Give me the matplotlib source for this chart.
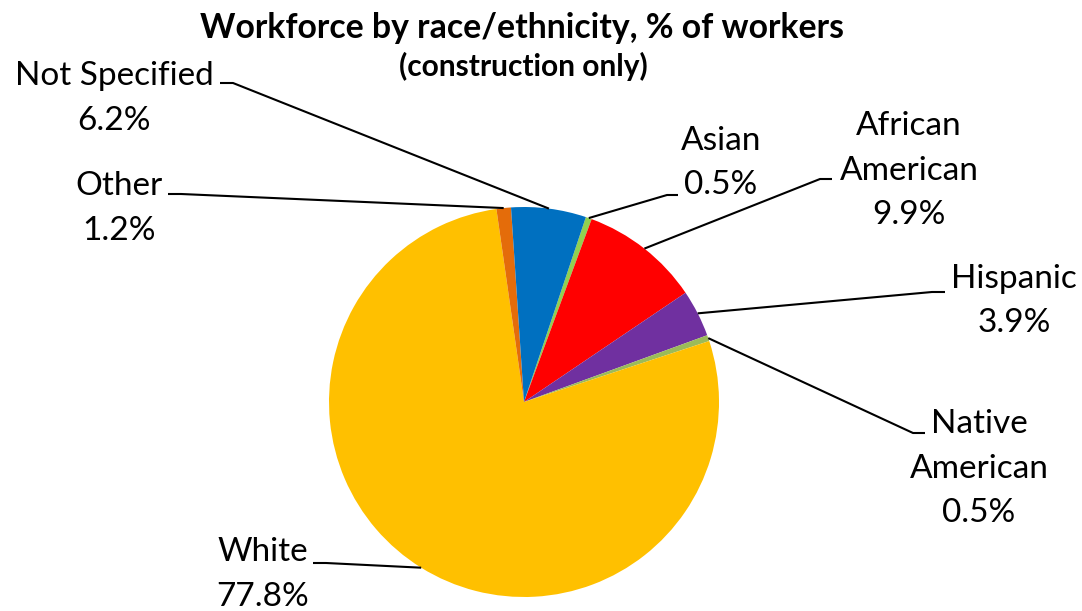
import matplotlib
matplotlib.use("Agg")
import matplotlib.pyplot as plt
import numpy as np

# ---- data ----
categories = ["Asian", "African American", "Hispanic", "Native American",
              "White", "Other", "Not Specified"]
values = [0.5, 9.9, 3.9, 0.5, 77.8, 1.2, 6.2]
colors = ["#92D050", "#FF0000", "#7030A0", "#9BBB59", "#FFC000", "#E46C0A", "#0070C0"]
label_lines = [["Asian"], ["African", "American"], ["Hispanic"], ["Native", "American"],
               ["White"], ["Other"], ["Not Specified"]]

title = "Workforce by race/ethnicity, % of workers"
subtitle = "(construction only)"

# ---- layout (image pixel coords, y down) ----
W, H = 1082, 611
# label centre x, first baseline y, leader knee (outer point), leader knee (inner point)
layout = {
    "Asian":            (721, 150, (678, 195), (667, 195)),
    "African American": (909, 135, (832, 179), (820, 179)),
    "Hispanic":         (1014, 288, (945, 292), (932, 292)),
    "Native American":  (979, 433, (925, 433), (913, 433)),
    "White":            (263, 561, (313, 563), (326, 563)),
    "Other":            (119, 195, (168, 194), (181, 194)),
    "Not Specified":    (114, 85, (220, 83), (233, 83)),
}
LS = 44.5
FONT = "Lato"

fig = plt.figure(figsize=(W / 100, H / 100), dpi=100)
ax = fig.add_axes([0, 0, 1, 1])
cx, cy, R = 524, H - 402, 195
wedges, _ = ax.pie(values, colors=colors, startangle=71.5, counterclock=False,
                   center=(cx, cy), radius=R, wedgeprops=dict(linewidth=0))
ax.set_xlim(0, W)
ax.set_ylim(0, H)
ax.set_aspect('equal')
ax.axis('off')

for w, cat, val, lines in zip(wedges, categories, values, label_lines):
    x, b, k_out, k_in = layout[cat]
    mid = np.deg2rad((w.theta1 + w.theta2) / 2)
    ex, ey = cx + R * np.cos(mid), cy + R * np.sin(mid)
    ax.plot([k_out[0], k_in[0], ex], [H - k_out[1], H - k_in[1], ey],
            color="black", lw=1.5, solid_capstyle="butt")
    all_lines = lines + [f"{val:.1f}%"]
    for i, t in enumerate(all_lines):
        ax.text(x, H - (b + i * LS), t, ha="center", va="baseline",
                fontsize=24, family=FONT, color="black")

ax.text(522, H - 38, title, ha="center", va="baseline", fontsize=24.3,
        fontweight="bold", family=FONT)
ax.text(523, H - 76, subtitle, ha="center", va="baseline", fontsize=21.5,
        fontweight="bold", family=FONT)

fig.savefig("out.png", dpi=100)
